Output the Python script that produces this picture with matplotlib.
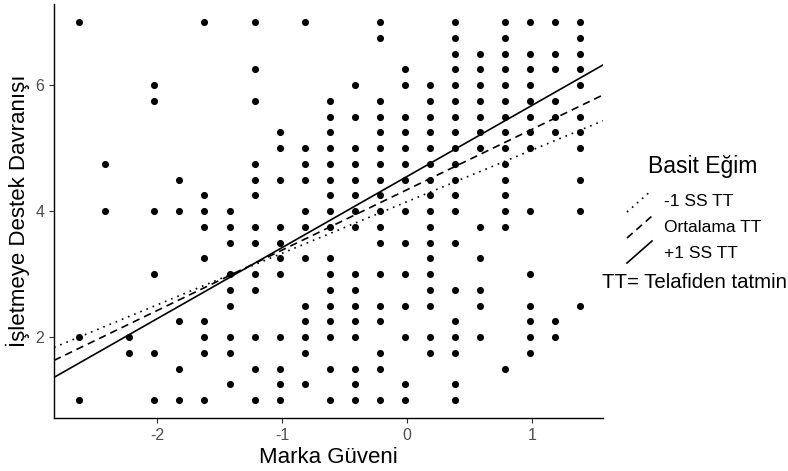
import matplotlib

matplotlib.use("Agg")
import matplotlib.pyplot as plt  # noqa: E402
from matplotlib.lines import Line2D  # noqa: E402

plt.rcParams["font.family"] = ["Liberation Sans", "DejaVu Sans"]
plt.rcParams["axes.unicode_minus"] = False

# Marka Güveni (centred) levels and the Destek values observed at each level
marka_levels = [-2.62, -2.42, -2.22, -2.02, -1.82, -1.62, -1.42, -1.22, -1.02, -0.82, -0.62,
                -0.42, -0.22, -0.02, 0.18, 0.38, 0.58, 0.78, 0.98, 1.18, 1.38]
destek_values = [
    [7.0, 2.0, 1.0],
    [4.75, 4.0],
    [2.0, 1.75],
    [6.0, 5.75, 4.0, 3.0, 1.75, 1.0],
    [4.5, 4.0, 2.25, 1.5, 1.0],
    [7.0, 4.25, 4.0, 3.75, 3.25, 2.25, 2.0, 1.75, 1.0],
    [4.0, 3.75, 3.5, 3.0, 2.75, 2.5, 2.0, 1.75, 1.25],
    [7.0, 6.25, 5.75, 4.75, 4.5, 4.25, 3.75, 3.5, 3.0, 2.75, 2.0, 1.5, 1.0],
    [5.25, 5.0, 4.5, 3.75, 3.5, 3.25, 3.0, 2.0, 1.5, 1.25, 1.0],
    [7.0, 5.0, 4.75, 4.5, 4.0, 3.75, 3.25, 2.5, 2.25, 2.0, 1.75, 1.25],
    [5.75, 5.5, 5.25, 5.0, 4.75, 4.5, 4.25, 4.0, 3.75, 3.25, 3.0, 2.75, 2.5, 2.25, 2.0,
     1.5, 1.0],
    [6.0, 5.5, 5.0, 4.75, 4.5, 4.25, 4.0, 3.75, 3.0, 2.75, 2.5, 2.25, 2.0, 1.5, 1.25, 1.0],
    [7.0, 6.75, 5.75, 5.5, 5.25, 5.0, 4.75, 4.5, 4.25, 4.0, 3.75, 3.5, 3.0, 2.5, 2.25,
     1.75, 1.5, 1.0],
    [6.25, 6.0, 5.5, 5.25, 5.0, 4.75, 4.5, 4.0, 3.5, 3.0, 2.5, 2.0, 1.25, 1.0],
    [6.0, 5.75, 5.5, 5.25, 5.0, 4.75, 4.5, 4.25, 4.0, 3.75, 3.5, 3.25, 3.0, 2.75, 2.5,
     2.0, 1.75],
    [7.0, 6.75, 6.5, 6.25, 6.0, 5.75, 5.5, 5.25, 5.0, 4.75, 4.5, 4.25, 4.0, 3.5, 2.75,
     2.25, 2.0, 1.75, 1.25, 1.0],
    [6.5, 6.25, 6.0, 5.75, 5.5, 5.25, 5.0, 3.75, 3.25, 2.75, 2.5, 2.0],
    [7.0, 6.75, 6.5, 6.25, 6.0, 5.75, 5.5, 5.25, 5.0, 4.75, 4.5, 4.25, 4.0, 3.75, 1.5],
    [7.0, 6.5, 6.25, 6.0, 5.75, 5.5, 5.25, 5.0, 4.0, 3.0, 2.5, 2.25, 2.0, 1.75],
    [7.0, 6.5, 6.25, 5.75, 5.5, 5.25, 2.25, 2.0],
    [7.0, 6.75, 6.5, 6.25, 6.0, 5.5, 5.25, 5.0, 4.5, 4.0, 2.5],
]

# simple slopes (intercept at Marka Güveni = 0, slope)
slope_labels = ["-1 SS TT", "Ortalama TT", "+1 SS TT"]
slope_intercepts = [4.15, 4.34, 4.55]
slope_values = [0.82, 0.96, 1.13]
slope_styles = [(0, (1, 3)), (0, (4.5, 3)), "-"]

W, H = 788, 471


def fx(px):
    return px / W


def fy(py):
    return 1 - py / H


fig = plt.figure(figsize=(W / 100, H / 100), dpi=100)
ax = fig.add_axes([fx(54), fy(418), (603 - 54) / W, (418 - 4) / H])

xs = [x for x, ys in zip(marka_levels, destek_values) for _ in ys]
ys = [y for col in destek_values for y in col]
ax.scatter(xs, ys, s=26, color="black", linewidths=0, zorder=2)

for b, m, ls in zip(slope_intercepts, slope_values, slope_styles):
    ax.axline((0, b), slope=m, color="black", lw=1.2, linestyle=ls, zorder=3)

ax.set_xlim(-2.824, 1.568)
ax.set_ylim(0.714, 7.29)
ax.set_xticks([-2, -1, 0, 1])
ax.set_yticks([2, 4, 6])
ax.tick_params(colors="#333333", labelcolor="#4d4d4d", labelsize=11.5, length=3.5, width=0.8)
for side in ("top", "right"):
    ax.spines[side].set_visible(False)
for side in ("left", "bottom"):
    ax.spines[side].set_linewidth(1.0)
    ax.spines[side].set_color("black")

ax.set_xlabel("Marka Güveni", fontsize=16, labelpad=3)
ax.set_ylabel("İşletmeye Destek Davranışı", fontsize=16, labelpad=4)

# legend with diagonal keys, drawn like the ggplot guide
fig.text(fx(703), fy(167), "Basit Eğim", fontsize=16.5, ha="center", va="center")
key_rows = [201, 227, 252]
for row, lab, ls in zip(key_rows, slope_labels, slope_styles):
    fig.add_artist(Line2D([fx(627), fx(652)], [fy(row + 11), fy(row - 11)],
                          color="black", lw=1.2, linestyle=ls))
    fig.text(fx(664), fy(row + 1), lab, fontsize=12.5, ha="left", va="center")
fig.text(fx(602), fy(282), "TT= Telafiden tatmin", fontsize=14.7, ha="left", va="center")

fig.savefig("out.png", dpi=100)
